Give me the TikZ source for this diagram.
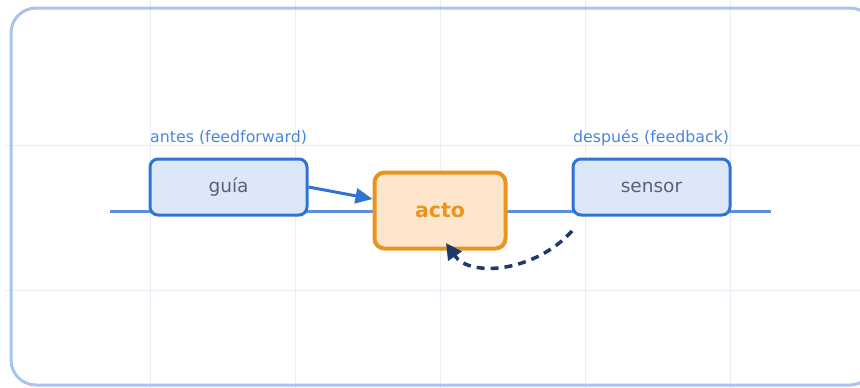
\documentclass[tikz,border=0pt]{standalone}
\usepackage{fontspec}
\setmainfont{DejaVu Sans}
\usetikzlibrary{arrows.meta}
\definecolor{framec}{HTML}{A9C4EE}
\definecolor{gridc}{HTML}{E8EEF8}
\definecolor{axisc}{HTML}{5C90DC}
\definecolor{bluestroke}{HTML}{2F74D4}
\definecolor{bluefill}{HTML}{DCE8F8}
\definecolor{boxtext}{HTML}{596273}
\definecolor{labelc}{HTML}{4A86DA}
\definecolor{orstroke}{HTML}{E8951F}
\definecolor{orfill}{HTML}{FDE6CC}
\definecolor{navy}{HTML}{1F3A6A}
\tikzset{
  stagebox/.style={draw=bluestroke, fill=bluefill, line width=3pt, rounded corners=8pt,
    minimum width=157pt, minimum height=56pt, inner sep=0pt,
    text=boxtext, font=\fontsize{18.5}{22}\selectfont},
  actbox/.style={draw=orstroke, fill=orfill, line width=4pt, rounded corners=10pt,
    minimum width=131pt, minimum height=76pt, inner sep=0pt,
    text=orstroke, font=\fontsize{20.5}{24}\selectfont\bfseries},
  stagelabel/.style={text=labelc, font=\fontsize{15.8}{18}\selectfont, inner sep=0pt},
  gridline/.style={draw=gridc, line width=1pt},
}
\begin{document}
\begin{tikzpicture}[x=1pt, y=-1pt]
\useasboundingbox (0,0) rectangle (860,388);
\clip (0,0) rectangle (860,388);
% background grid
\foreach \gx in {150,295,440,585,730} \draw[gridline] (\gx,0) -- (\gx,388);
\foreach \gy in {145,290} \draw[gridline] (5,\gy) -- (860,\gy);
% outer frame, running past the right edge
\draw[framec, line width=3pt, rounded corners=25pt] (11,8) rectangle (875,385);
% time axis
\coordinate (axL) at (110,211);
\coordinate (axR) at (771,211);
\draw[axisc, line width=3pt] (axL) -- (axR);
% nodes
\node[stagebox] (guia) at (228.5,187) {guía};
\node[stagebox] (sensor) at (651.5,187) {sensor};
\node[actbox] (acto) at (440,210.5) {acto};
\node[stagelabel, anchor=base west] (antes) at (150,142) {antes (feedforward)};
\node[stagelabel, anchor=base west] (despues) at (573,142) {después (feedback)};
% feedforward arrow
\draw[bluestroke, line width=3pt, -{Triangle[length=17pt, width=15pt]}]
  (guia.east) -- (acto.west |- 0,199);
% feedback arrow
\coordinate (fbS) at (572,231);
\draw[navy, line width=3.5pt, dash pattern=on 8pt off 6pt, -{Triangle[length=16pt, width=16pt]}]
  (fbS) .. controls (535,272) and (470,278) .. (446,243);
\end{tikzpicture}
\end{document}
